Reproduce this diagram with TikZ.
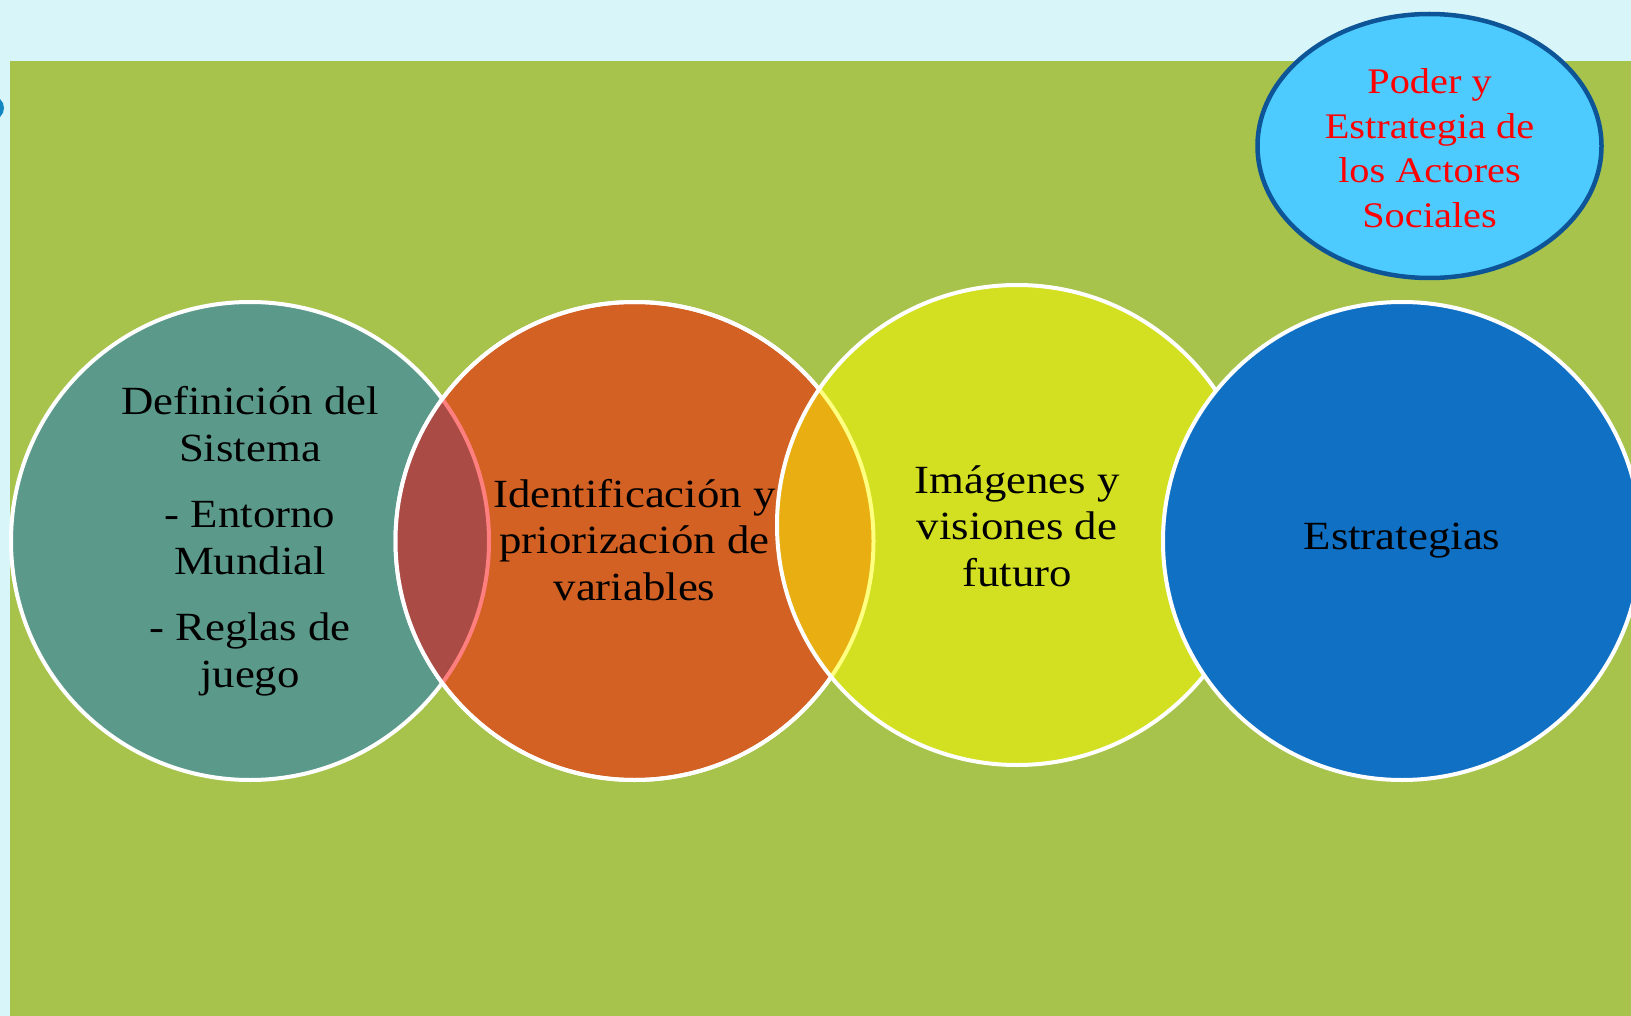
\documentclass[tikz,border=0pt]{standalone}
\usepackage{fontspec}
\setmainfont{Liberation Serif}[FakeStretch=1.12]
\definecolor{bgcyan}{HTML}{D8F5FA}
\definecolor{bggreen}{HTML}{A8C34C}
\definecolor{cteal}{HTML}{5B9A8B}
\definecolor{corange}{HTML}{D26123}
\definecolor{cyellow}{HTML}{D3E022}
\definecolor{cblue}{HTML}{1070C4}
\definecolor{lensred}{HTML}{AA4B45}
\definecolor{lensgold}{HTML}{E8AE12}
\definecolor{arcpink}{HTML}{FF7F7F}
\definecolor{arcyellow}{HTML}{FFFF80}
\definecolor{ellfill}{HTML}{4DCBFF}
\definecolor{elldraw}{HTML}{0E5597}
\definecolor{dotblue}{HTML}{1286C2}
\tikzset{
  bigcirc/.style={circle, minimum size=478pt, inner sep=0pt, draw=white, line width=4pt},
  bodytext/.style={align=center, text=black, font=\fontsize{40}{46.5}\selectfont},
  redtext/.style={align=center, text=red, font=\fontsize{36}{44.5}\selectfont}
}
\begin{document}
\begin{tikzpicture}[x=1pt,y=-1pt]
\useasboundingbox (0,0) rectangle (1631,1016);
\fill[bgcyan] (0,0) rectangle (1631,1016);
\fill[bggreen] (10,61) rectangle (1631,1016);
\fill[dotblue] (-8,108) circle (12);
% circle 1 and 2
\node[bigcirc, fill=cteal] (c1) at (250,541) {};
\node[bigcirc, fill=corange] (c2) at (634.5,541) {};
\begin{scope}
  \clip (250,541) circle (239);
  \fill[lensred] (634.5,541) circle (239);
\end{scope}
\begin{scope}
  \clip (634.5,541) circle (239);
  \draw[arcpink, line width=4pt] (250,541) circle (239);
\end{scope}
\draw[white, line width=4pt] (634.5,541) circle (239);
% circle 3
\node[bigcirc, fill=cyellow, draw=none] (c3) at (1017,525) {};
\begin{scope}
  \clip (634.5,541) circle (239);
  \fill[lensgold] (1017,525) circle (240);
\end{scope}
\begin{scope}
  \clip (1017,525) circle (240);
  \draw[arcyellow, line width=4pt] (634.5,541) circle (239);
\end{scope}
\draw[white, line width=4pt] (1017,525) circle (240);
% circle 4
\node[bigcirc, fill=cblue] (c4) at (1402,541) {};
% ellipse
\draw[elldraw, fill=ellfill, line width=4.5pt] (1429.5,146) ellipse (172 and 132);
\coordinate (e) at (1429.5,148);
% texts
\node[bodytext] (t1) at (250,541) {Definición del\\Sistema\\[20pt]- Entorno\\Mundial\\[20pt]- Reglas de\\juego};
\node[bodytext] (t2) at (634.5,540) {Identificación y\\priorización de\\variables};
\node[bodytext] (t3) at (1017,526) {Imágenes y\\visiones de\\futuro};
\node[bodytext] (t4) at (1402,541) {Estrategias};
\node[redtext] (t5) at (e) {Poder y\\Estrategia de\\los Actores\\Sociales};
\end{tikzpicture}
\end{document}
